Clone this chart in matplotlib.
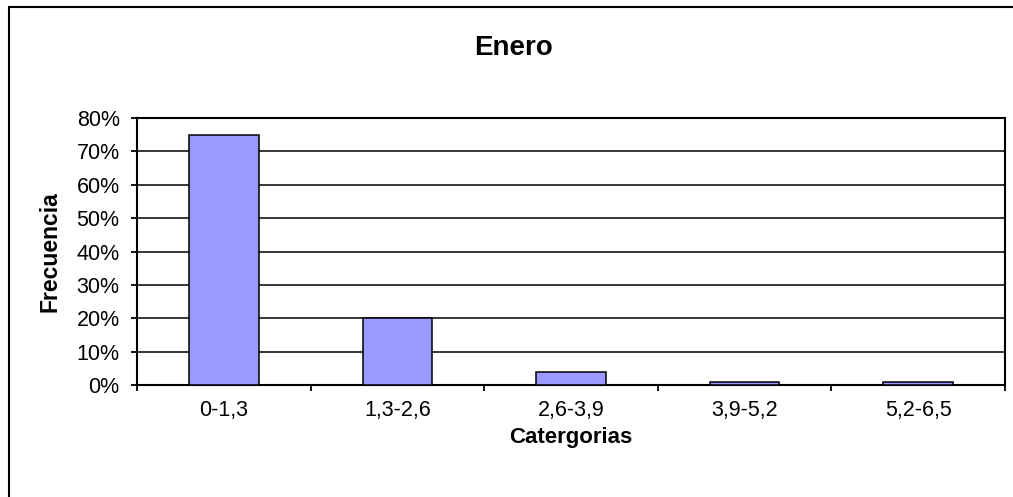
import matplotlib
matplotlib.use("Agg")
import matplotlib.pyplot as plt
from matplotlib.patches import Rectangle
from matplotlib.ticker import FixedLocator, PercentFormatter

categories = ["0-1,3", "1,3-2,6", "2,6-3,9", "3,9-5,2", "5,2-6,5"]
frecuencia = [75, 20, 4, 1, 1]
y_ticks = [0, 10, 20, 30, 40, 50, 60, 70, 80]

plt.rcParams["font.family"] = ["Liberation Sans", "DejaVu Sans"]

W, H = 1013, 497
fig = plt.figure(figsize=(W / 100, H / 100), dpi=100)

# outer chart frame (only left/top visible in the reference)
fig.patches.append(Rectangle((9 / W, -0.1), 1.2, (H - 7) / H + 0.1,
                             transform=fig.transFigure, fill=False,
                             edgecolor="black", linewidth=1.5))

ax = fig.add_axes([137 / W, (H - 385) / H, (1005 - 137) / W, (385 - 118) / H])
x = list(range(len(categories)))
ax.bar(x, frecuencia, width=0.4, color="#9999FF", edgecolor="black",
       linewidth=1.1, zorder=3)

ax.set_xlim(-0.5, len(categories) - 0.5)
ax.set_ylim(0, 80)
ax.set_yticks(y_ticks)
ax.yaxis.set_major_formatter(PercentFormatter(decimals=0))
ax.grid(axis="y", color="black", linewidth=1.1, zorder=0)

ax.set_xticks(x)
ax.set_xticklabels(categories)
ax.xaxis.set_minor_locator(FixedLocator([i - 0.5 for i in range(len(categories) + 1)]))
ax.tick_params(axis="x", which="major", length=0, pad=11, labelsize=15.5)
ax.tick_params(axis="x", which="minor", length=4.5, width=1.3, direction="out")
ax.tick_params(axis="y", length=4.5, width=1.3, direction="out", pad=8, labelsize=15.5)

for s in ax.spines.values():
    s.set_linewidth(1.5)

ax.set_xlabel("Catergorias", fontsize=16, fontweight="bold")
ax.set_ylabel("Frecuencia", fontsize=16.5, fontweight="bold")
ax.xaxis.set_label_coords(0.5, (385 - 437) / 267, transform=ax.transAxes)
ax.yaxis.set_label_coords((50 - 137) / 868, 0.5, transform=ax.transAxes)
ax.xaxis.label.set_va("center")
ax.yaxis.label.set_va("center")
fig.text(514 / W, (H - 48) / H, "Enero", ha="center", va="center",
         fontsize=20, fontweight="bold")

fig.savefig("out.png", dpi=100)
